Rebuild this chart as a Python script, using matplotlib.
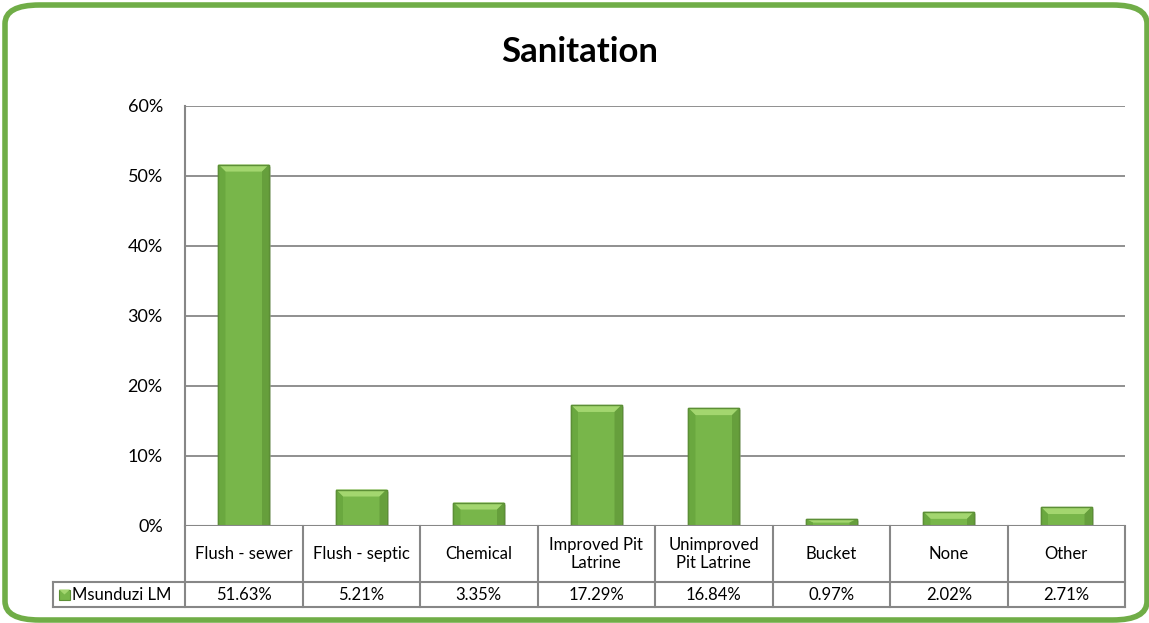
import numpy as np
import matplotlib.pyplot as plt
from matplotlib.patches import FancyBboxPatch, Polygon, Rectangle
from matplotlib.lines import Line2D

plt.rcParams['font.family'] = ['Lato', 'DejaVu Sans']

# Sanitation data
categories = ["Flush - sewer", "Flush - septic", "Chemical", "Improved Pit\nLatrine",
              "Unimproved\nPit Latrine", "Bucket", "None", "Other"]
values = [51.63, 5.21, 3.35, 17.29, 16.84, 0.97, 2.02, 2.71]
series_name = "Msunduzi LM"
yticks = [0, 10, 20, 30, 40, 50, 60]

W, H = 1149, 623
fig = plt.figure(figsize=(W / 100, H / 100), dpi=100)

# rounded green frame around the whole chart
frame = FancyBboxPatch((5 / W, 3 / H), 1142 / W, 615 / H,
                       boxstyle="round,pad=0,rounding_size=0.03",
                       transform=fig.transFigure, facecolor="none",
                       edgecolor="#70AD47", linewidth=4, zorder=10)
fig.patches.append(frame)

left, right, top, bottom = 185, 1125, 106, 526
ax = fig.add_axes([left / W, 1 - bottom / H, (right - left) / W, (bottom - top) / H])
ax.set_facecolor("none")
n = len(categories)
ax.set_xlim(0, n)
ax.set_ylim(0, 60)

grey = "#878787"
for s in ["top", "right", "bottom"]:
    ax.spines[s].set_visible(False)
ax.spines["left"].set_color(grey)
ax.spines["left"].set_linewidth(1.5)
ax.set_yticks(yticks)
ax.set_yticklabels([f"{t}%" for t in yticks], fontsize=13)
ax.tick_params(axis="y", length=0, pad=16)
ax.set_xticks([])
ax.yaxis.grid(True, color=grey, linewidth=1.3)
ax.set_axisbelow(True)

# bevelled bars
x = np.arange(n) + 0.5
bw = 0.43
px_x = (right - left) / n
px_y = (bottom - top) / 60
bx = 7 / px_x
by = 7 / px_y
for xi, v in zip(x, values):
    x0, x1 = xi - bw / 2, xi + bw / 2
    ax.add_patch(Rectangle((x0 + 0.02, -0.3), bw, v, facecolor="#bbbbbb",
                           edgecolor="none", alpha=0.5, zorder=2))
    ax.bar(xi, v, width=bw, color="#78B64A", edgecolor="#5C8F36",
           linewidth=1, zorder=3)
    b = min(by, v / 2)
    # top bevel (light)
    ax.add_patch(Polygon([(x0, v), (x1, v), (x1 - bx, v - b), (x0 + bx, v - b)],
                         closed=True, facecolor="#A3D66F", edgecolor="none", zorder=4))
    # side bevels
    ax.add_patch(Polygon([(x0, v), (x0 + bx, v - b), (x0 + bx, 0), (x0, 0)],
                         closed=True, facecolor="#6AA83F", edgecolor="none", zorder=4))
    ax.add_patch(Polygon([(x1, v), (x1 - bx, v - b), (x1 - bx, 0), (x1, 0)],
                         closed=True, facecolor="#669F3C", edgecolor="none", zorder=4))
    ax.add_patch(Rectangle((x0, 0), bw, v, facecolor="none", edgecolor="#5C8F36",
                           linewidth=1, zorder=5))

ax.axhline(0, color=grey, linewidth=1.5, zorder=6)

# data table under the plot
row1 = (582 - bottom) / (bottom - top)
row2 = (607 - bottom) / (bottom - top)
leg_x = (53 - left) / (right - left) * n
tab_kw = dict(color=grey, linewidth=1.5, clip_on=False, zorder=6)

def hline(yfrac, x0, x1):
    ax.add_line(Line2D([x0, x1], [-yfrac * 60, -yfrac * 60], **tab_kw))

def vline(xv, y0, y1):
    ax.add_line(Line2D([xv, xv], [-y0 * 60, -y1 * 60], **tab_kw))

hline(row1, leg_x, n)
hline(row2, leg_x, n)
for i in range(n + 1):
    vline(i, 0, row2)
vline(leg_x, row1, row2)

for xi, cat, v in zip(x, categories, values):
    ax.text(xi, -row1 * 60 / 2, cat, ha="center", va="center", fontsize=12,
            linespacing=1.1, clip_on=False)
    ax.text(xi, -(row1 + row2) * 60 / 2, f"{v:.2f}%", ha="center", va="center",
            fontsize=12, clip_on=False)

# legend key inside the table
key_y = -(row1 + row2) * 60 / 2
kx0 = leg_x + 6 / px_x
ax.add_patch(Rectangle((kx0, key_y - 5 / px_y), 11 / px_x, 10 / px_y,
                       facecolor="#78B64A", edgecolor="#5C8F36", linewidth=0.8,
                       clip_on=False, zorder=7))
ax.add_patch(Polygon([(kx0, key_y + 5 / px_y), (kx0 + 11 / px_x, key_y + 5 / px_y),
                      (kx0 + 5.5 / px_x, key_y)], closed=True,
                     facecolor="#A3D66F", edgecolor="none", clip_on=False, zorder=8))
ax.text(kx0 + 13 / px_x, key_y, series_name, ha="left", va="center",
        fontsize=12, clip_on=False)

fig.text(580 / W, 1 - 52 / H, "Sanitation", ha="center", va="center",
         fontsize=25, fontweight="bold")

fig.savefig("out.png", dpi=100)
